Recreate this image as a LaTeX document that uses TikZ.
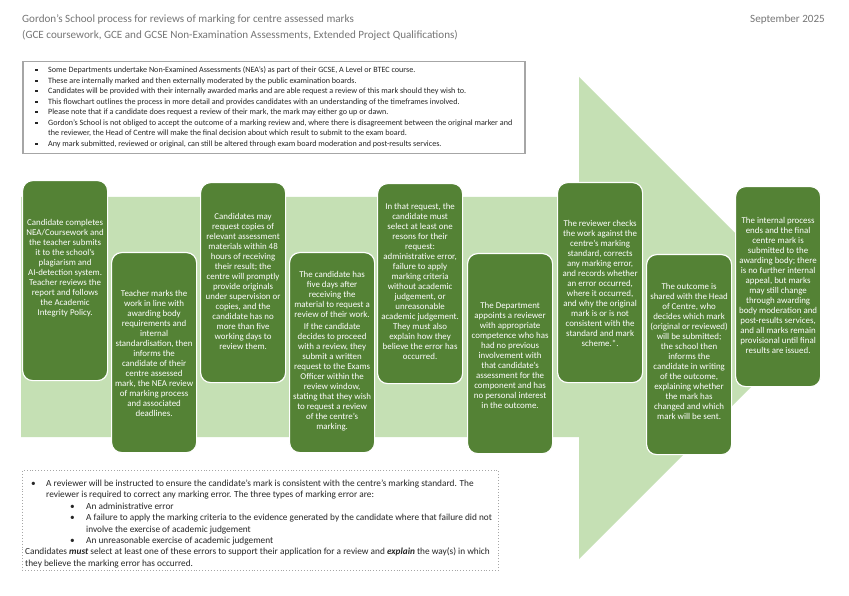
\documentclass[tikz,border=0pt]{standalone}
\usepackage{fontspec}
\setmainfont{Carlito}
\definecolor{dkg}{HTML}{548235}
\definecolor{ltg}{HTML}{C5E0B4}
\definecolor{ttl}{HTML}{767676}
\definecolor{bdr}{HTML}{A6A6A6}
\definecolor{txt}{HTML}{262626}
\begin{document}
\begin{tikzpicture}[x=1pt,y=-1pt,
  stepbox/.style={fill=dkg, draw=white, line width=1.2pt, rounded corners=10pt,
    minimum width=85pt, minimum height=200pt, anchor=north west, inner sep=0pt},
  boxtext/.style={text=white, align=center, font=\fontsize{8.9}{10}\selectfont, inner sep=0pt},
  topline/.style={anchor=base west, inner sep=0pt, text=txt, font=\fontsize{8.1}{9}\selectfont},
  botline/.style={anchor=base west, inner sep=0pt, text=txt, font=\fontsize{9.3}{9}\selectfont},
  sqbul/.style={fill=txt, minimum size=2.3pt, inner sep=0pt, anchor=center},
  ttltext/.style={anchor=base west, inner sep=0pt, text=ttl, font=\fontsize{11.1}{12}\selectfont}]
\useasboundingbox (0,0) rectangle (849,596);
\fill[white] (0,0) rectangle (849,596);
% title
\node[ttltext] (title1) at (22,23) {Gordon’s School process for reviews of marking for centre assessed marks};
\node[ttltext] (title2) at (22,38.5) {(GCE coursework, GCE and GCSE Non-Examination Assessments, Extended Project Qualifications)};
\node[ttltext, anchor=base east] (date) at (825,23) {September 2025};
% big arrow
\fill[ltg] (21,197) -- (579,197) -- (579,77) -- (820,318) -- (579,559) -- (579,437) -- (21,437) -- cycle;
% top box
\node[draw=bdr, line width=1.5pt, minimum width=502pt, minimum height=92pt, anchor=north west, inner sep=0pt, fill=white] (topbox) at (22,61) {};
\foreach \i/\y/\t in {1/72.8/{Some Departments undertake Non-Examined Assessments (NEA’s) as part of their GCSE, A Level or BTEC course.},
  2/83.3/{These are internally marked and then externally moderated by the public examination boards.},
  3/93.8/{Candidates will be provided with their internally awarded marks and are able request a review of this mark should they wish to.},
  4/104.3/{This flowchart outlines the process in more detail and provides candidates with an understanding of the timeframes involved.},
  5/114.8/{Please note that if a candidate does request a review of their mark, the mark may either go up or dawn.},
  6/125.3/{Gordon’s School is not obliged to accept the outcome of a marking review and, where there is disagreement between the original marker and},
  8/146.3/{Any mark submitted, reviewed or original, can still be altered through exam board moderation and post-results services.}}{
  \node[topline] (tl\i) at (48,\y) {\t};
  \node[sqbul] (tb\i) at (36.5,\y-2.5) {};
}
\node[topline] (tl7) at (48,135.8) {the reviewer, the Head of Centre will make the final decision about which result to submit to the exam board.};
% step boxes
\node[stepbox] (b1) at (22,180) {};
\node[stepbox] (b2) at (111,252) {};
\node[stepbox] (b3) at (200,182) {};
\node[stepbox] (b4) at (289,252) {};
\node[stepbox] (b5) at (377,183) {};
\node[stepbox] (b6) at (467,253) {};
\node[stepbox] (b7) at (557,182) {};
\node[stepbox] (b8) at (646,254) {};
\node[stepbox] (b9) at (735,186) {};
\node[boxtext] (t1) at (b1.center |- 0,268) {Candidate completes\\NEA/Coursework and\\the teacher submits\\it to the school’s\\plagiarism and\\AI-detection system.\\Teacher reviews the\\report and follows\\the Academic\\Integrity Policy.};
\node[boxtext] (t2) at (b2.center |- 0,353) {Teacher marks the\\work in line with\\awarding body\\requirements and\\internal\\standardisation, then\\informs the\\candidate of their\\centre assessed\\mark, the NEA review\\of marking process\\and associated\\deadlines.};
\node[boxtext] (t3) at (b3.center |- 0,281) {Candidates may\\request copies of\\relevant assessment\\materials within 48\\hours of receiving\\their result; the\\centre will promptly\\provide originals\\under supervision or\\copies, and the\\candidate has no\\more than five\\working days to\\review them.};
\node[boxtext] (t4) at (b4.center |- 0,351) {The candidate has\\five days after\\receiving the\\material to request a\\review of their work.\\[1.5pt]If the candidate\\decides to proceed\\with a review, they\\submit a written\\request to the Exams\\Officer within the\\review window,\\stating that they wish\\to request a review\\of the centre’s\\marking.};
\node[boxtext] (t5) at (b5.center |- 0,281) {In that request, the\\candidate must\\select at least one\\resons for their\\request:\\administrative error,\\failure to apply\\marking criteria\\without academic\\judgement, or\\unreasonable\\academic judgement.\\They must also\\explain how they\\believe the error has\\occurred.};
\node[boxtext] (t6) at (b6.center |- 0,355) {The Department\\appoints a reviewer\\with appropriate\\competence who has\\had no previous\\involvement with\\that candidate’s\\assessment for the\\component and has\\no personal interest\\in the outcome.};
\node[boxtext] (t7) at (b7.center |- 0,283) {The reviewer checks\\the work against the\\centre’s marking\\standard, corrects\\any marking error,\\and records whether\\an error occurred,\\where it occurred,\\and why the original\\mark is or is not\\consistent with the\\standard and mark\\scheme.*.};
\node[boxtext] (t8) at (b8.center |- 0,351) {The outcome is\\shared with the Head\\of Centre, who\\decides which mark\\(original or reviewed)\\will be submitted;\\the school then\\informs the\\candidate in writing\\of the outcome,\\explaining whether\\the mark has\\changed and which\\mark will be sent.};
\node[boxtext] (t9) at (b9.center |- 0,285) {The internal process\\ends and the final\\centre mark is\\submitted to the\\awarding body; there\\is no further internal\\appeal, but marks\\may still change\\through awarding\\body moderation and\\post-results services,\\and all marks remain\\provisional until final\\results are issued.};
% bottom box
\node[draw=bdr, dotted, line width=0.9pt, minimum width=476pt, minimum height=100pt, anchor=north west, inner sep=0pt, fill=white] (botbox) at (22,470) {};
\node[botline] (bb1) at (31,486) {•};
\node[botline] (bl1) at (46,486) {A reviewer will be instructed to ensure the candidate’s mark is consistent with the centre’s marking standard. The};
\node[botline] (bl2) at (46,497.5) {reviewer is required to correct any marking error. The three types of marking error are:};
\node[botline] (bb3) at (70,509) {•};
\node[botline] (bl3) at (86,509) {An administrative error};
\node[botline] (bb4) at (70,520.5) {•};
\node[botline] (bl4) at (86,520.5) {A failure to apply the marking criteria to the evidence generated by the candidate where that failure did not};
\node[botline] (bl5) at (86,532) {involve the exercise of academic judgement};
\node[botline] (bb6) at (70,543) {•};
\node[botline] (bl6) at (86,543) {An unreasonable exercise of academic judgement};
\node[botline] (bl7) at (25,554.5) {Candidates \textbf{\textit{must}} select at least one of these errors to support their application for a review and \textbf{\textit{explain}} the way(s) in which};
\node[botline] (bl8) at (25,566) {they believe the marking error has occurred.};
\end{tikzpicture}
\end{document}
